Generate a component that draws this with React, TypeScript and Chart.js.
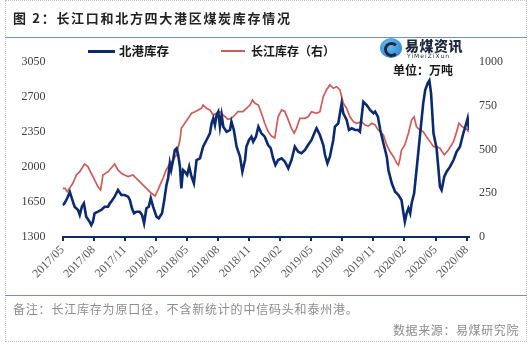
import React, { useEffect, useRef } from "react";
import { Chart, registerables } from "chart.js";

Chart.register(...registerables);

const xTickLabels = [
  "2017/05", "2017/08", "2017/11", "2018/02", "2018/05", "2018/08", "2018/11",
  "2019/02", "2019/05", "2019/08", "2019/11", "2020/02", "2020/05", "2020/08",
];

const northDates = [
  "2017-05-01","2017-05-07","2017-05-15","2017-05-23","2017-05-29","2017-06-06","2017-06-16","2017-06-21","2017-06-27","2017-07-03",
  "2017-07-10","2017-07-20","2017-07-25","2017-07-30","2017-08-04","2017-08-14","2017-08-24","2017-09-03","2017-09-13","2017-09-18",
  "2017-09-22","2017-10-02","2017-10-07","2017-10-12","2017-10-22","2017-11-01","2017-11-11","2017-11-16","2017-11-22","2017-11-28",
  "2017-12-05","2017-12-15","2017-12-22","2017-12-28","2018-01-04","2018-01-11","2018-01-17","2018-01-24","2018-02-03","2018-02-09",
  "2018-02-18","2018-02-24","2018-03-02","2018-03-07","2018-03-12","2018-03-16","2018-03-22","2018-03-27","2018-04-01","2018-04-06",
  "2018-04-11","2018-04-15","2018-04-20","2018-04-25","2018-05-02","2018-05-08","2018-05-15","2018-05-22","2018-05-30","2018-06-09",
  "2018-06-18","2018-06-28","2018-07-08","2018-07-13","2018-07-18","2018-07-23","2018-07-28","2018-08-02","2018-08-07","2018-08-12",
  "2018-08-17","2018-08-27","2018-09-06","2018-09-10","2018-09-17","2018-09-25","2018-10-05","2018-10-12","2018-10-20","2018-10-24",
  "2018-11-01","2018-11-08","2018-11-13","2018-11-21","2018-11-28","2018-12-07","2018-12-17","2018-12-27","2019-01-04","2019-01-11",
  "2019-01-18","2019-01-26","2019-02-05","2019-02-14","2019-02-23","2019-03-04","2019-03-14","2019-03-24","2019-04-03","2019-04-13",
  "2019-04-22","2019-05-02","2019-05-12","2019-05-17","2019-05-27","2019-06-06","2019-06-11","2019-06-18","2019-06-25","2019-07-05",
  "2019-07-10","2019-07-20","2019-07-25","2019-07-30","2019-08-04","2019-08-14","2019-08-21","2019-08-29","2019-09-08","2019-09-17",
  "2019-09-22","2019-09-27","2019-10-02","2019-10-12","2019-10-22","2019-11-01","2019-11-06","2019-11-14","2019-11-21","2019-11-30",
  "2019-12-10","2019-12-15","2019-12-25","2020-01-04","2020-01-14","2020-01-23","2020-01-29","2020-02-02","2020-02-07","2020-02-12",
  "2020-02-17","2020-02-21","2020-02-28","2020-03-06","2020-03-16","2020-03-26","2020-04-01","2020-04-08","2020-04-13","2020-04-18",
  "2020-04-25","2020-04-29","2020-05-04","2020-05-09","2020-05-14","2020-05-19","2020-05-27","2020-06-03","2020-06-13","2020-06-23",
  "2020-07-02","2020-07-12","2020-07-22","2020-07-28","2020-08-04","2020-08-08",
];
const northValues = [
  1620,1637,1687,1750,1687,1603,1570,1520,1603,1637,
  1503,1453,1420,1453,1537,1553,1570,1603,1603,1637,
  1653,1703,1737,1770,1720,1720,1703,1670,1587,1537,
  1553,1553,1520,1437,1587,1603,1687,1603,1503,1487,
  1537,1670,1820,1890,2037,1970,2070,2170,2187,2120,
  2003,1787,1970,1953,1920,2003,1903,1837,2070,2087,
  2203,2270,2337,2437,2487,2420,2520,2553,2403,2520,
  2403,2353,2370,2453,2370,2203,2103,1953,2070,2203,
  2270,2303,2253,2303,2403,2337,2303,2220,2187,2087,
  2020,2070,2087,2053,1987,2070,2203,2153,2137,2170,
  2220,2270,2353,2387,2320,2220,2120,2037,2103,2270,
  2403,2437,2537,2637,2537,2470,2370,2387,2370,2370,
  2353,2503,2653,2620,2570,2537,2553,2503,2370,2237,
  2103,1970,1837,1753,1720,1670,1537,1453,1537,1587,
  1537,1637,1737,1970,2303,2637,2770,2837,2865,2737,
  2337,2270,2187,2003,1803,1770,1903,1953,2003,2070,
  2153,2203,2337,2403,2487,2370,
];

const yangtzeDates = [
  "2017-05-01","2017-05-09","2017-05-15","2017-05-22","2017-06-01","2017-06-11","2017-06-21","2017-07-05","2017-07-15","2017-07-25",
  "2017-08-04","2017-08-14","2017-08-22","2017-08-29","2017-09-13","2017-10-02","2017-10-12","2017-10-22","2017-11-01","2017-11-11",
  "2017-11-25","2017-12-05","2017-12-20","2018-01-04","2018-01-19","2018-01-30","2018-02-07","2018-02-15","2018-02-21","2018-03-01",
  "2018-03-10","2018-03-22","2018-04-01","2018-04-11","2018-04-15","2018-04-25","2018-05-05","2018-05-15","2018-05-25","2018-06-04",
  "2018-06-13","2018-06-18","2018-06-28","2018-07-08","2018-07-18","2018-07-28","2018-08-07","2018-08-17","2018-08-31","2018-09-10",
  "2018-09-20","2018-09-29","2018-10-14","2018-10-24","2018-11-04","2018-11-11","2018-11-18","2018-11-28","2018-12-07","2018-12-17",
  "2018-12-27","2019-01-06","2019-01-16","2019-01-26","2019-02-05","2019-02-14","2019-02-23","2019-03-04","2019-03-12","2019-03-19",
  "2019-03-29","2019-04-13","2019-04-22","2019-05-02","2019-05-17","2019-05-27","2019-06-06","2019-06-15","2019-06-25","2019-07-05",
  "2019-07-15","2019-07-25","2019-08-04","2019-08-14","2019-08-24","2019-09-03","2019-09-12","2019-09-27","2019-10-07","2019-10-17",
  "2019-10-27","2019-11-06","2019-11-15","2019-11-30","2019-12-10","2019-12-20","2019-12-30","2020-01-09","2020-01-14","2020-01-19",
  "2020-01-23","2020-02-02","2020-02-12","2020-02-21","2020-02-28","2020-03-06","2020-03-16","2020-03-26","2020-04-05","2020-04-15",
  "2020-04-25","2020-05-04","2020-05-14","2020-05-27","2020-06-08","2020-06-23","2020-07-02","2020-07-09","2020-07-19","2020-07-29",
  "2020-08-08",
];
const yangtzeValues = [
  278,278,259,278,307,354,373,417,402,364,
  326,287,269,354,373,417,383,364,354,345,
  354,335,307,278,250,234,269,309,337,383,
  411,440,469,554,621,650,678,707,716,726,
  735,754,735,726,697,707,716,697,673,678,
  697,716,716,735,754,783,764,754,707,650,
  602,577,566,687,726,716,669,621,593,621,
  678,678,687,716,707,716,802,840,869,850,
  859,840,764,735,687,659,650,659,640,634,
  650,640,611,583,526,487,459,421,411,450,
  497,526,593,669,687,630,611,602,573,545,
  516,516,507,469,497,545,602,650,630,621,
  600,
];

const NAVY = "#0b2a6f";
const RED = "#cd5c5a";
const NUM_FONT = "'Liberation Serif', 'Times New Roman', serif";
const CJK = "'Noto Sans CJK SC', sans-serif";

function toMonths(date: string): number {
  const [y, m, d] = date.split(/[-/]/).map(Number);
  const [by, bm] = xTickLabels[0].split("/").map(Number);
  const dim = d ? new Date(Date.UTC(y, m, 0)).getUTCDate() : 1;
  return (y - by) * 12 + (m - bm) + (d ? (d - 1) / dim : 0);
}

export default function App() {
  const ref = useRef<HTMLCanvasElement | null>(null);

  useEffect(() => {
    if (!ref.current) return;
    const tickValues = xTickLabels.map((l) => toMonths(l));
    const lastX = toMonths(northDates[northDates.length - 1]);
    const chart = new Chart(ref.current, {
      type: "line",
      data: {
        datasets: [
          {
            label: "北港库存",
            data: northDates.map((d, i) => ({ x: toMonths(d), y: northValues[i] })),
            borderColor: NAVY,
            borderWidth: 2.6,
            pointRadius: 0,
            tension: 0,
            yAxisID: "y",
          },
          {
            label: "长江库存（右）",
            data: yangtzeDates.map((d, i) => ({ x: toMonths(d), y: yangtzeValues[i] })),
            borderColor: RED,
            borderWidth: 1.7,
            pointRadius: 0,
            tension: 0,
            yAxisID: "y1",
          },
        ],
      },
      options: {
        animation: false,
        responsive: false,
        maintainAspectRatio: false,
        layout: { padding: { left: 0, right: 21, top: 62, bottom: 63 } },
        plugins: { legend: { display: false }, tooltip: { enabled: false } },
        scales: {
          x: {
            type: "linear",
            min: 0,
            max: lastX,
            afterBuildTicks: (s: any) => {
              s.ticks = tickValues.map((v) => ({ value: v }));
            },
            afterFit: (s: any) => {
              s.height = 50;
            },
            ticks: {
              autoSkip: false,
              minRotation: 45,
              maxRotation: 45,
              padding: 2,
              color: "#595959",
              font: { family: NUM_FONT, size: 12 },
              callback: (_v: any, i: number) => xTickLabels[i],
            },
            grid: {
              display: true,
              drawOnChartArea: false,
              drawTicks: true,
              tickLength: 4,
              color: NAVY,
              lineWidth: 2,
            },
            border: { display: true, color: NAVY, width: 2 },
          },
          y: {
            position: "left",
            min: 1300,
            max: 3050,
            afterFit: (s: any) => {
              s.width = 62.5;
            },
            ticks: {
              stepSize: 350,
              padding: 17,
              color: "#404040",
              font: { family: NUM_FONT, size: 12 },
              callback: (v: any) => String(v),
            },
            grid: { display: false, drawTicks: false },
            border: { display: false },
          },
          y1: {
            position: "right",
            min: 0,
            max: 1000,
            afterFit: (s: any) => {
              s.width = 40;
            },
            ticks: {
              stepSize: 250,
              padding: 10,
              color: "#404040",
              font: { family: NUM_FONT, size: 12 },
              callback: (v: any) => String(v),
            },
            grid: { display: false, drawTicks: false },
            border: { display: false },
          },
        },
      },
    } as any);
    return () => chart.destroy();
  }, []);

  const abs = (s: React.CSSProperties): React.CSSProperties => ({ position: "absolute", ...s });

  return (
    <div style={{ position: "fixed", left: 0, top: 0, width: 530, height: 350, background: "#fff", overflow: "hidden" }}>
      <canvas ref={ref} width={530} height={350} style={abs({ left: 0, top: 0, width: 530, height: 350 })} />
      <div style={abs({ left: 5, top: 0, width: 522, height: 342, border: "1px dotted #c4c4c4", boxSizing: "border-box" })} />
      <div style={abs({ left: 13, top: 10, fontFamily: CJK, fontWeight: 700, fontSize: 13, lineHeight: "15px", letterSpacing: 1.7, color: "#222", whiteSpace: "nowrap" })}>
        图 2：长江口和北方四大港区煤炭库存情况
      </div>
      <div style={abs({ left: 5, top: 36.5, width: 522, height: 1.5, background: "#7391c4" })} />
      <div style={abs({ left: 5, top: 294.5, width: 522, height: 1.5, background: "#7391c4" })} />

      {/* legend */}
      <div style={abs({ left: 88, top: 50, width: 27, height: 2.6, background: NAVY })} />
      <div style={abs({ left: 119, top: 42, fontFamily: CJK, fontWeight: 700, fontSize: 12.5, lineHeight: "17px", color: "#1a1a1a", whiteSpace: "nowrap" })}>
        北港库存
      </div>
      <div style={abs({ left: 221, top: 50.3, width: 24, height: 1.8, background: RED })} />
      <div style={abs({ left: 251, top: 42, fontFamily: CJK, fontWeight: 700, fontSize: 12, lineHeight: "17px", color: "#1a1a1a", whiteSpace: "nowrap" })}>
        长江库存（右）
      </div>

      {/* logo */}
      <div style={abs({ left: 380, top: 38, width: 22, height: 20, borderRadius: "50%", background: "radial-gradient(circle at 40% 35%, #6cc0f2, #1f78c8)" })} />
      <div style={abs({ left: 384, top: 42, width: 9, height: 9, borderRadius: "50%", border: "3px solid #1c2740", borderRightColor: "transparent" })} />
      <div style={abs({ left: 405, top: 37, fontFamily: CJK, fontWeight: 900, fontSize: 14, lineHeight: "17px", color: "#1e2a3c", letterSpacing: 0.5, whiteSpace: "nowrap" })}>
        易煤资讯
      </div>
      <div style={abs({ left: 407, top: 52, fontFamily: "'DejaVu Sans', sans-serif", fontSize: 6, lineHeight: "7px", color: "#1e2a3c", letterSpacing: 1, whiteSpace: "nowrap" })}>
        YiMeiZiXun
      </div>
      <div style={abs({ left: 393, top: 62, fontFamily: CJK, fontWeight: 700, fontSize: 12, lineHeight: "15px", color: "#1a1a1a", whiteSpace: "nowrap" })}>
        单位：万吨
      </div>

      {/* notes */}
      <div style={abs({ left: 13, top: 300, fontFamily: CJK, fontSize: 12, lineHeight: "17px", letterSpacing: 0.8, color: "#8c8c8c", whiteSpace: "nowrap" })}>
        备注：长江库存为原口径，不含新统计的中信码头和泰州港。
      </div>
      <div style={abs({ right: 11, top: 321, fontFamily: CJK, fontSize: 12, lineHeight: "17px", letterSpacing: 0.6, color: "#8c8c8c", whiteSpace: "nowrap" })}>
        数据来源：易煤研究院
      </div>
    </div>
  );
}
